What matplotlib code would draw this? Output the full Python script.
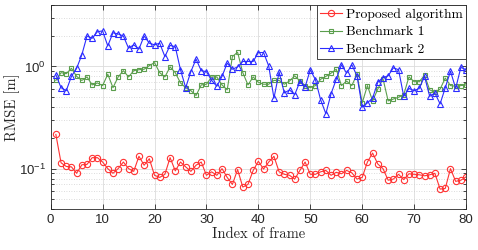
import matplotlib
matplotlib.use("Agg")
import matplotlib.pyplot as plt
import numpy as np
from matplotlib.ticker import LogLocator, FixedLocator

frames = np.arange(1, 81)

proposed = [0.216, 0.114, 0.105, 0.104, 0.090, 0.109, 0.110, 0.128, 0.128, 0.116,
            0.100, 0.090, 0.100, 0.116, 0.100, 0.094, 0.132, 0.108, 0.125, 0.086,
            0.082, 0.088, 0.128, 0.095, 0.116, 0.104, 0.094, 0.108, 0.116, 0.086,
            0.093, 0.086, 0.100, 0.082, 0.070, 0.098, 0.066, 0.070, 0.096, 0.118,
            0.099, 0.116, 0.132, 0.093, 0.088, 0.086, 0.079, 0.096, 0.116, 0.088,
            0.088, 0.093, 0.096, 0.086, 0.092, 0.089, 0.096, 0.091, 0.079, 0.082,
            0.116, 0.142, 0.111, 0.100, 0.077, 0.079, 0.088, 0.078, 0.089, 0.088,
            0.087, 0.085, 0.087, 0.090, 0.063, 0.064, 0.100, 0.075, 0.077, 0.083]

bench1 = [0.73, 0.87, 0.85, 0.96, 0.80, 0.73, 0.79, 0.66, 0.69, 0.65,
          0.84, 0.62, 0.79, 0.91, 0.79, 0.91, 0.93, 0.94, 1.02, 1.09,
          0.87, 0.79, 0.99, 0.87, 0.69, 0.62, 0.58, 0.52, 0.66, 0.67,
          0.79, 0.79, 0.66, 0.59, 1.25, 1.38, 0.87, 0.66, 0.79, 0.70,
          0.67, 0.67, 0.73, 0.73, 0.67, 0.72, 0.81, 0.72, 0.65, 0.62,
          0.65, 0.75, 0.80, 0.86, 0.94, 0.65, 0.72, 0.65, 0.84, 0.44,
          0.65, 0.46, 0.60, 0.76, 0.46, 0.48, 0.50, 0.53, 0.79, 0.71,
          0.71, 0.82, 0.59, 0.56, 0.60, 0.77, 0.65, 0.64, 0.65, 0.66]

bench2 = [0.83, 0.62, 0.58, 0.80, 0.96, 1.30, 1.99, 1.89, 2.19, 2.23,
          1.59, 2.14, 2.08, 1.99, 1.51, 1.63, 1.48, 1.99, 1.69, 1.63,
          1.69, 1.25, 1.61, 1.56, 0.93, 0.62, 0.89, 1.18, 0.91, 0.89,
          0.73, 0.64, 0.80, 1.08, 0.94, 0.99, 1.12, 1.12, 1.12, 1.37,
          1.37, 1.01, 0.49, 0.88, 0.55, 0.59, 0.53, 0.71, 0.63, 0.93,
          0.74, 0.47, 0.345, 0.54, 0.75, 1.04, 0.86, 1.04, 0.81, 0.40,
          0.44, 0.49, 0.70, 0.78, 0.81, 0.97, 0.93, 0.51, 0.61, 0.58,
          0.61, 0.80, 0.51, 0.55, 0.43, 0.62, 0.90, 0.61, 0.98, 0.93]

xticks = [0, 10, 20, 30, 40, 50, 60, 70, 80]

plt.rcParams["mathtext.fontset"] = "custom"
plt.rcParams["mathtext.rm"] = "Liberation Sans"
plt.rcParams["mathtext.it"] = "Liberation Sans:italic"

serif = "cmr10"
axcol = "#262626"

fig = plt.figure(figsize=(4.78, 2.5), dpi=100)
ax = fig.add_axes([0.106, 0.163, 0.869, 0.817])

ax.plot(frames, proposed, "-o", color="#ff3333", lw=0.8, ms=4.5, mfc="none", mew=0.8,
        label="Proposed algorithm")
ax.plot(frames, bench1, "-s", color="#5b9e4d", lw=0.8, ms=3.5, mfc="none", mew=0.8,
        label="Benchmark 1")
ax.plot(frames, bench2, "-^", color="#2b2bff", lw=0.8, ms=5, mfc="none", mew=0.8,
        label="Benchmark 2")

ax.set_yscale("log")
ax.set_xlim(0, 80)
ax.set_ylim(0.04, 4)
ax.xaxis.set_major_locator(FixedLocator(xticks))
ax.yaxis.set_major_locator(FixedLocator([0.1, 1]))
ax.yaxis.set_minor_locator(LogLocator(base=10, subs=np.arange(2, 10)))
ax.set_yticklabels([r"$\mathrm{10^{-1}}$", r"$\mathrm{10^{0}}$"])
ax.yaxis.set_minor_formatter(plt.NullFormatter())

ax.grid(True, which="major", color="#dcdcdc", lw=0.6, ls="-")
ax.grid(True, which="minor", axis="y", color="#d0d0d0", lw=0.6, ls=(0, (1, 2)))
ax.set_axisbelow(True)

ax.tick_params(which="both", direction="in", top=True, right=True, colors=axcol,
               labelsize=9.5, width=0.6)
ax.tick_params(which="major", length=3.5)
ax.tick_params(which="minor", length=2)
for lab in ax.get_xticklabels():
    lab.set_fontfamily("Liberation Sans")
for s in ax.spines.values():
    s.set_color(axcol)
    s.set_linewidth(0.6)

ax.set_xlabel("Index of frame", fontfamily=serif, fontsize=10.5, color=axcol, labelpad=1)
ax.set_ylabel("RMSE [m]", fontfamily=serif, fontsize=10.5, color=axcol, labelpad=-1)

leg = ax.legend(loc="upper right", prop={"family": serif, "size": 9.8},
                fancybox=False, framealpha=1, edgecolor=axcol, borderpad=0.25,
                labelspacing=0.35, handlelength=1.6, handletextpad=0.3,
                borderaxespad=0.0)
leg.get_frame().set_linewidth(0.6)

fig.savefig("out.png", dpi=100)
